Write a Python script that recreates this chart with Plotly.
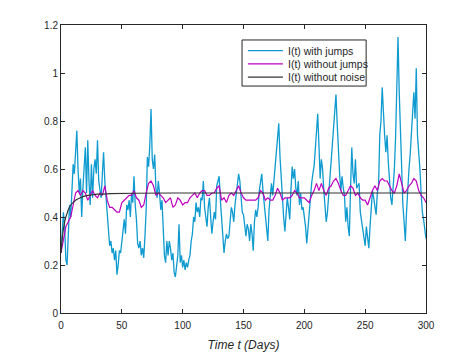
import plotly.graph_objects as go

# time axis (days)
days = list(range(0, 301))
days_2 = list(range(0, 301, 2))

# I(t) with jumps
with_jumps = [
    0.25, 0.33, 0.42, 0.36, 0.22, 0.20, 0.30, 0.45, 0.40, 0.55,
    0.62, 0.58, 0.66, 0.76, 0.60, 0.50, 0.56, 0.40, 0.52, 0.60,
    0.69, 0.50, 0.72, 0.55, 0.45, 0.62, 0.48, 0.60, 0.64, 0.58,
    0.72, 0.55, 0.50, 0.48, 0.58, 0.67, 0.55, 0.48, 0.45, 0.35,
    0.28, 0.30, 0.25, 0.27, 0.22, 0.26, 0.16, 0.20, 0.26, 0.25,
    0.30, 0.36, 0.39, 0.33, 0.45, 0.43, 0.47, 0.40, 0.50, 0.46,
    0.57, 0.45, 0.39, 0.29, 0.27, 0.30, 0.24, 0.27, 0.23, 0.32,
    0.43, 0.65, 0.61, 0.70, 0.85, 0.64, 0.60, 0.66, 0.52, 0.48,
    0.55, 0.50, 0.43, 0.47, 0.35, 0.24, 0.21, 0.30, 0.24, 0.30,
    0.27, 0.22, 0.25, 0.17, 0.15, 0.20, 0.24, 0.37, 0.21, 0.24,
    0.19, 0.22, 0.18, 0.21, 0.19, 0.22, 0.24, 0.30, 0.33, 0.40,
    0.38, 0.46, 0.42, 0.44, 0.40, 0.48, 0.47, 0.55, 0.44, 0.40,
    0.36, 0.44, 0.48, 0.40, 0.33, 0.38, 0.42, 0.39, 0.53, 0.55,
    0.57, 0.47, 0.40, 0.30, 0.25, 0.30, 0.33, 0.31, 0.32, 0.38,
    0.44, 0.42, 0.38, 0.45, 0.50, 0.52, 0.58, 0.55, 0.48, 0.42,
    0.41, 0.36, 0.32, 0.37, 0.35, 0.30, 0.37, 0.33, 0.26, 0.38,
    0.43, 0.40, 0.44, 0.51, 0.56, 0.58, 0.51, 0.46, 0.38, 0.33,
    0.30, 0.43, 0.50, 0.54, 0.49, 0.55, 0.62, 0.65, 0.72, 0.79,
    0.65, 0.55, 0.46, 0.40, 0.34, 0.42, 0.48, 0.44, 0.39, 0.51,
    0.61, 0.56, 0.60, 0.52, 0.49, 0.55, 0.45, 0.50, 0.43, 0.44,
    0.40, 0.36, 0.29, 0.35, 0.44, 0.49, 0.54, 0.58, 0.61, 0.68,
    0.76, 0.83, 0.70, 0.56, 0.64, 0.60, 0.51, 0.43, 0.38, 0.42,
    0.49, 0.55, 0.62, 0.68, 0.78, 0.86, 0.91, 0.79, 0.66, 0.58,
    0.51, 0.57, 0.52, 0.49, 0.38, 0.44, 0.36, 0.32, 0.52, 0.69,
    0.58, 0.54, 0.64, 0.52, 0.53, 0.54, 0.42, 0.38, 0.34, 0.32,
    0.28, 0.36, 0.30, 0.27, 0.36, 0.42, 0.51, 0.48, 0.43, 0.41,
    0.50, 0.53, 0.74, 0.80, 0.94, 0.80, 0.74, 0.67, 0.74, 0.63,
    0.55, 0.48, 0.45, 0.53, 0.60, 0.73, 1.02, 1.15, 0.92, 0.73,
    0.55, 0.45, 0.38, 0.30, 0.42, 0.53, 0.60, 0.66, 0.76, 0.85,
    0.92, 0.81, 1.02, 0.74, 0.68, 0.60, 0.50, 0.42, 0.39, 0.34,
    0.31,
]

# I(t) without jumps, every 2 days
without_jumps = [
    0.25, 0.31, 0.36, 0.38, 0.40, 0.45, 0.50, 0.51, 0.49, 0.51,
    0.50, 0.47, 0.49, 0.51, 0.49, 0.48, 0.50, 0.49, 0.53, 0.47,
    0.44, 0.44, 0.43, 0.42, 0.42, 0.46, 0.47, 0.48, 0.49, 0.49,
    0.51, 0.48, 0.47, 0.44, 0.45, 0.50, 0.54, 0.55, 0.53, 0.49,
    0.50, 0.49, 0.48, 0.46, 0.47, 0.48, 0.44, 0.45, 0.48, 0.47,
    0.45, 0.46, 0.46, 0.48, 0.49, 0.50, 0.48, 0.50, 0.51, 0.51,
    0.49, 0.49, 0.50, 0.50, 0.52, 0.53, 0.47, 0.48, 0.46, 0.49,
    0.50, 0.49, 0.51, 0.53, 0.50, 0.48, 0.47, 0.47, 0.47, 0.47,
    0.47, 0.48, 0.51, 0.50, 0.47, 0.48, 0.47, 0.47, 0.49, 0.52,
    0.50, 0.47, 0.48, 0.48, 0.48, 0.49, 0.51, 0.50, 0.48, 0.48,
    0.48, 0.47, 0.46, 0.49, 0.51, 0.54, 0.51, 0.54, 0.51, 0.49,
    0.52, 0.53, 0.55, 0.56, 0.54, 0.51, 0.49, 0.49, 0.51, 0.53,
    0.52, 0.49, 0.50, 0.48, 0.47, 0.47, 0.45, 0.48, 0.51, 0.53,
    0.51, 0.55, 0.56, 0.55, 0.55, 0.53, 0.51, 0.50, 0.53, 0.58,
    0.54, 0.50, 0.51, 0.53, 0.54, 0.56, 0.55, 0.51, 0.49, 0.48,
    0.46,
]

# I(t) without noise (deterministic curve)
det_days = [0, 1, 2, 3, 4, 5, 6, 8, 10, 12, 15, 18, 21, 25, 30, 40, 60, 100, 150, 200, 250, 300]
without_noise = [0.25, 0.31, 0.35, 0.38, 0.40, 0.415, 0.43, 0.45, 0.46, 0.47, 0.478,
                 0.485, 0.489, 0.492, 0.495, 0.497, 0.499, 0.5, 0.5, 0.5, 0.5, 0.5]

series_names = ["I(t) with jumps", "I(t) without jumps", "I(t) without noise"]
series_colors = ["#0f9bd0", "#bf00bf", "#333333"]

x_ticks = [0, 50, 100, 150, 200, 250, 300]
y_ticks = [0, 0.2, 0.4, 0.6, 0.8, 1.0, 1.2]
y_tick_text = ["0", "0.2", "0.4", "0.6", "0.8", "1", "1.2"]

axis_color = "#262626"
font = "Liberation Sans, Arial, sans-serif"

fig = go.Figure()
fig.add_trace(go.Scatter(x=days, y=with_jumps, mode="lines", name=series_names[0],
                         line=dict(color=series_colors[0], width=1.3)))
fig.add_trace(go.Scatter(x=days_2, y=without_jumps, mode="lines", name=series_names[1],
                         line=dict(color=series_colors[1], width=1.2)))
fig.add_trace(go.Scatter(x=det_days, y=without_noise, mode="lines", name=series_names[2],
                         line=dict(color=series_colors[2], width=1.2, shape="spline")))

# compact MATLAB-style legend box (plotly's own legend rows are too tall)
fig.add_shape(type="rect", xref="paper", yref="paper", x0=0.496, x1=0.836, y0=0.788, y1=0.948,
              line=dict(color=axis_color, width=1), fillcolor="white", layer="above")
row_y = [0.911, 0.865, 0.819]
for name, color, ry in zip(series_names, series_colors, row_y):
    fig.add_shape(type="line", xref="paper", yref="paper", x0=0.512, x1=0.608, y0=ry, y1=ry,
                  line=dict(color=color, width=1.2), layer="above")
    fig.add_annotation(text=name, xref="paper", yref="paper", x=0.617, y=ry,
                       xanchor="left", yanchor="middle", showarrow=False,
                       font=dict(family=font, size=10.5, color=axis_color))

axis_common = dict(
    showline=True, mirror="ticks", linecolor=axis_color, linewidth=1,
    ticks="inside", ticklen=4, tickcolor=axis_color,
    showgrid=False, zeroline=False, automargin=False,
    tickfont=dict(family=font, size=10, color=axis_color),
)

# page body has an 8px margin, so the figure is shrunk to keep the axes in place
fig.update_layout(
    width=463, height=345,
    margin=dict(l=53, r=45, t=17, b=40),
    paper_bgcolor="white", plot_bgcolor="white",
    font=dict(family=font, size=10, color=axis_color),
    xaxis=dict(range=[0, 300], tickvals=x_ticks, ticklabelstandoff=3, **axis_common,
               title=dict(text="<i>Time t (Days)</i>", standoff=10,
                          font=dict(family=font, size=12, color=axis_color))),
    yaxis=dict(range=[0, 1.2], tickvals=y_ticks, ticktext=y_tick_text, **axis_common),
    showlegend=False,
)

fig.write_html("out.html")
